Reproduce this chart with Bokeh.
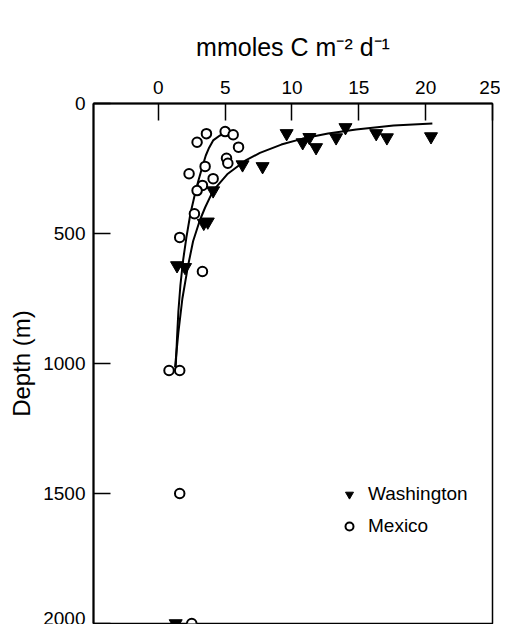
from bokeh.plotting import figure
from bokeh.models import Range1d, FixedTicker, Legend, LegendItem
from bokeh.embed import file_html
from bokeh.resources import INLINE

FONT = "Liberation Sans"

# ---- data ----
x_ticks = [0, 5, 10, 15, 20, 25]
y_ticks = [0, 500, 1000, 1500, 2000]

wash_flux = [9.6, 10.8, 11.3, 11.8, 13.3, 14.0, 16.3, 17.1, 20.4,
             6.3, 7.8, 4.1, 3.4, 3.7, 1.4, 2.0, 1.3]
wash_depth = [115, 150, 130, 169, 131, 92, 115, 131, 127,
              235, 242, 335, 460, 455, 623, 630, 2000]

mex_flux = [5.0, 5.6, 3.6, 2.9, 6.0, 5.1, 5.2, 3.5, 2.3, 4.1,
            3.3, 2.9, 2.7, 1.6, 3.3, 0.8, 1.6, 1.6, 2.5]
mex_depth = [108, 120, 116, 149, 168, 211, 230, 242, 270, 289,
             315, 335, 424, 515, 646, 1027, 1027, 1500, 2000]

wash_fit_depth = [77, 85, 100, 115, 135, 158, 190, 220, 270, 335,
                  400, 450, 530, 630, 750, 880, 1015]
wash_fit_flux = [20.5, 17.6, 14.8, 12.7, 10.8, 9.2, 7.6, 6.5, 5.2, 4.1,
                 3.5, 3.1, 2.6, 2.2, 1.8, 1.5, 1.25]

mex_fit_depth = [116, 123, 142, 170, 200, 242, 296, 335, 424, 515,
                 604, 700, 800, 900, 1015]
mex_fit_flux = [5.1, 4.6, 4.1, 3.8, 3.55, 3.3, 3.0, 2.8, 2.4, 2.1,
                1.85, 1.65, 1.5, 1.4, 1.3]

legend_labels = ["Washington", "Mexico"]
x_title = "mmoles C m\u207b\u00b2 d\u207b\u00b9"
y_title = "Depth (m)"

# ---- figure ----
p = figure(width=500, height=624,
           x_range=Range1d(-4.85, 25), y_range=Range1d(2000, 0),
           x_axis_location="above",
           output_backend="svg", toolbar_location=None,
           min_border_left=93, min_border_right=8,
           min_border_top=103, min_border_bottom=1)
p.grid.visible = False
p.outline_line_color = "black"
p.outline_line_width = 1.5
p.background_fill_color = "white"
p.border_fill_color = "white"

xa = p.xaxis[0]
xa.ticker = FixedTicker(ticks=x_ticks)
xa.major_tick_in = 17
xa.major_tick_out = 0
xa.minor_tick_in = 0
xa.minor_tick_out = 0
xa.axis_line_width = 2
xa.major_tick_line_width = 1.5
xa.major_label_text_font = FONT
xa.major_label_text_font_size = "19px"
xa.major_label_text_color = "black"
xa.major_label_standoff = 10
xa.axis_label = x_title
xa.axis_label_text_font = FONT
xa.axis_label_text_font_size = "25px"
xa.axis_label_text_font_style = "normal"
xa.axis_label_text_color = "black"
xa.axis_label_standoff = 17

ya = p.yaxis[0]
ya.ticker = FixedTicker(ticks=y_ticks)
ya.major_tick_in = 17
ya.major_tick_out = 0
ya.minor_tick_in = 0
ya.minor_tick_out = 0
ya.axis_line_width = 2
ya.major_tick_line_width = 1.5
ya.major_label_text_font = FONT
ya.major_label_text_font_size = "19px"
ya.major_label_text_color = "black"
ya.major_label_standoff = 8
ya.axis_label = y_title
ya.axis_label_text_font = FONT
ya.axis_label_text_font_size = "24px"
ya.axis_label_text_font_style = "normal"
ya.axis_label_text_color = "black"
ya.axis_label_standoff = 5

# ---- curves ----
p.line(wash_fit_flux, wash_fit_depth, line_color="black", line_width=2)
p.line(mex_fit_flux, mex_fit_depth, line_color="black", line_width=2)

# ---- points ----
r_w = p.scatter(wash_flux, wash_depth, marker="inverted_triangle", size=13,
                fill_color="black", line_color="black", line_width=1)
r_m = p.scatter(mex_flux, mex_depth, marker="circle", size=9.5,
                fill_color="white", line_color="black", line_width=2)

leg = Legend(items=[LegendItem(label=legend_labels[0], renderers=[r_w]),
                    LegendItem(label=legend_labels[1], renderers=[r_m])],
             location=(246, 86), border_line_color=None,
             background_fill_alpha=0, padding=0, margin=0, spacing=10,
             glyph_width=20, glyph_height=20, label_height=20,
             label_standoff=9, label_text_font=FONT,
             label_text_font_size="19px", label_text_color="black")
p.add_layout(leg)

open("out.html", "w").write(file_html(p, INLINE))
